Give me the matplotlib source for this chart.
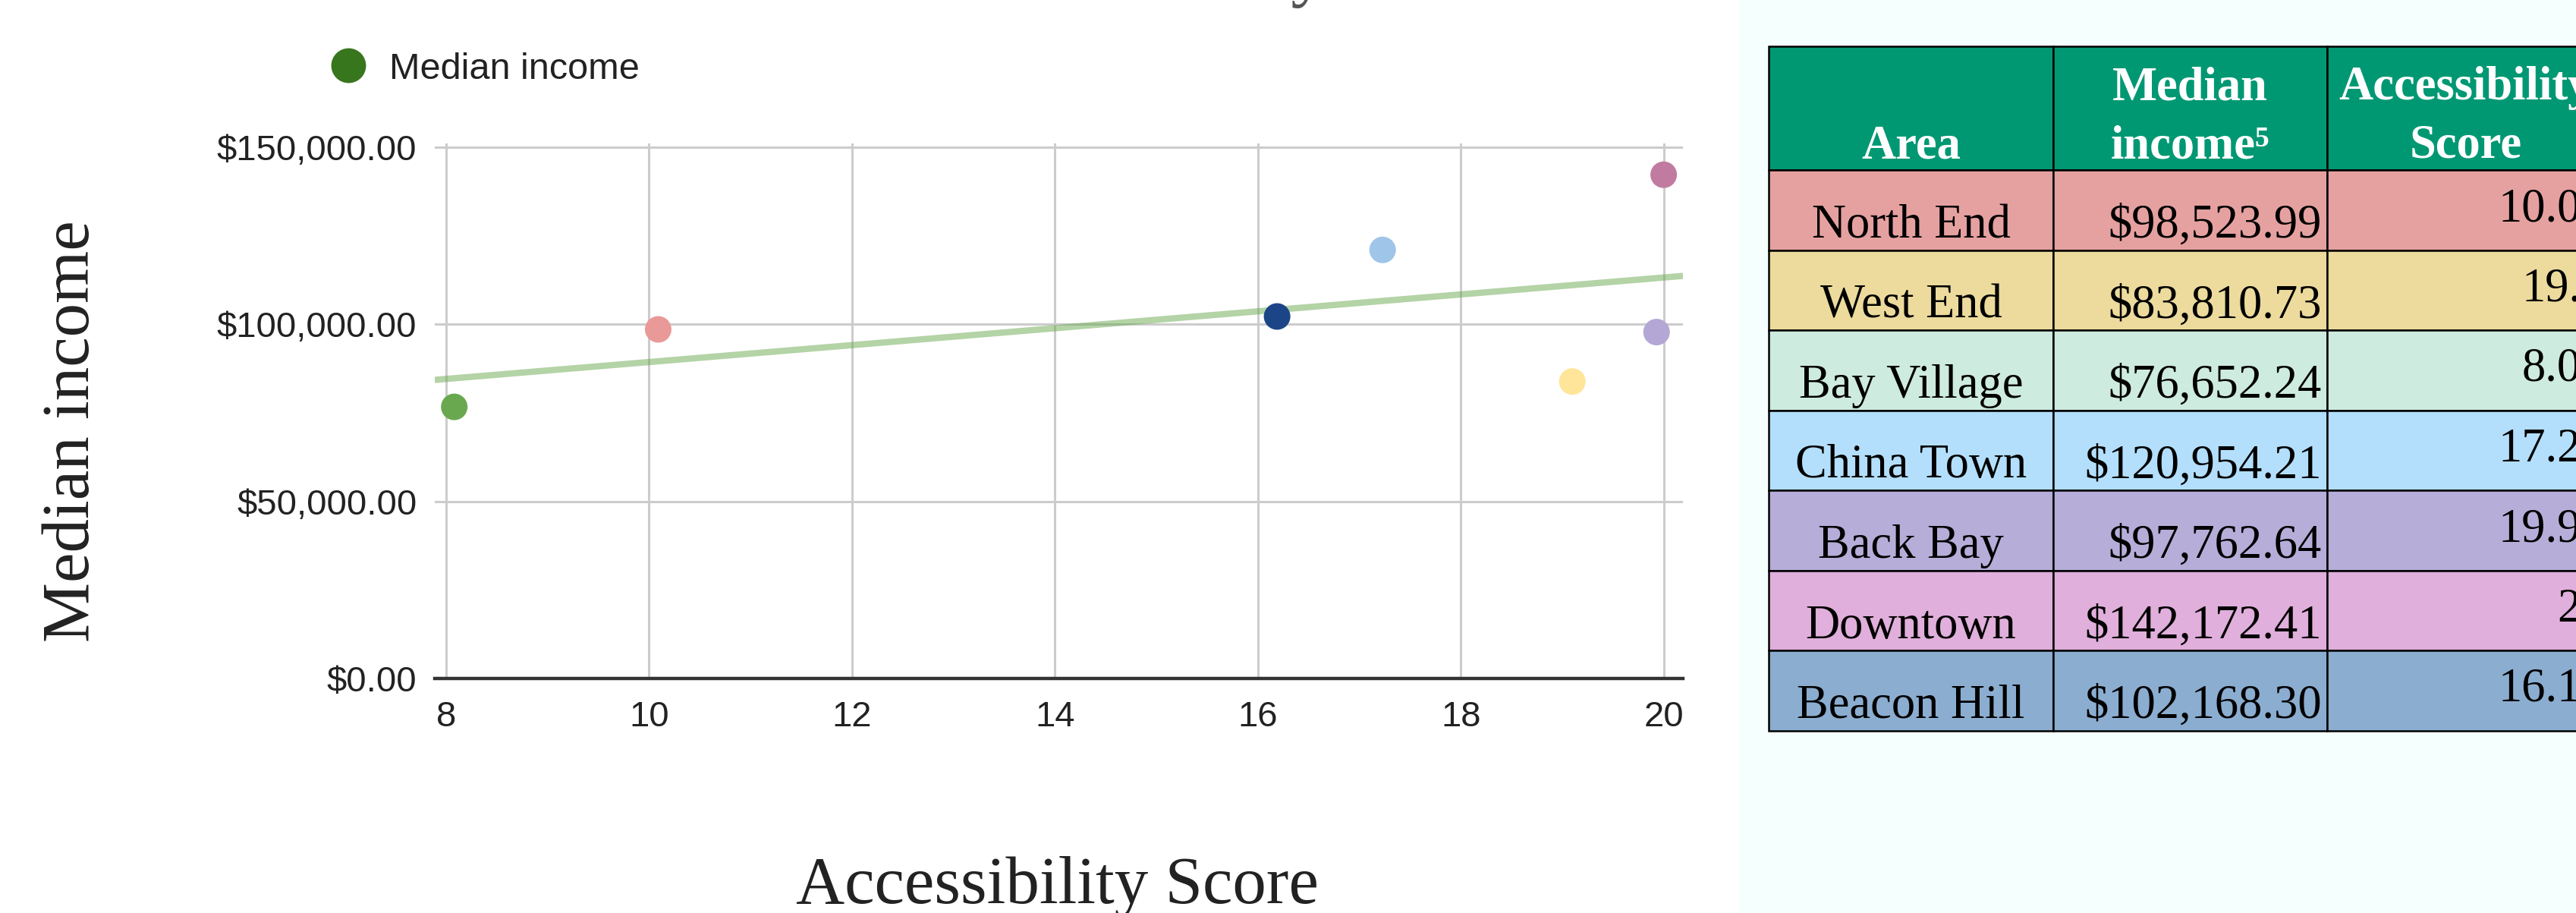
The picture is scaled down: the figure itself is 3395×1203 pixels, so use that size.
import numpy as np
import matplotlib
matplotlib.use("Agg")
import matplotlib.pyplot as plt
from matplotlib.lines import Line2D
from matplotlib.patches import Rectangle
from matplotlib.ticker import FuncFormatter

# ── data ──────────────────────────────────────────────────────────────────────
areas = ["North End", "West End", "Bay Village", "China Town",
         "Back Bay", "Downtown", "Beacon Hill"]
median_income = [98523.99, 83810.73, 76652.24, 120954.21,
                 97762.64, 142172.41, 102168.30]
access_score = [10.09, 19.1, 8.08, 17.23, 19.93, 20, 16.19]
point_colors = ["#ea9999", "#ffe599", "#6aa84f", "#9fc5e8",
                "#b4a7d6", "#c27ba0", "#1c4587"]
row_colors = ["#e5a1a0", "#ecdb9c", "#ceebdf", "#b3dffc",
              "#b6aed9", "#e0afdb", "#8badd0"]
x_ticks = [8, 10, 12, 14, 16, 18, 20]
y_ticks = [0, 50000, 100000, 150000]

W, H, DPI = 3395, 1203, 100
SERIF = "Liberation Serif"
SANS = "Liberation Sans"
INK = "#222222"

fig = plt.figure(figsize=(W / DPI, H / DPI), dpi=DPI, facecolor="white")

# ── scatter chart ─────────────────────────────────────────────────────────────
x0, x1, ytop, ybot = 573, 2218, 189, 894
ax = fig.add_axes([x0 / W, 1 - ybot / H, (x1 - x0) / W, (ybot - ytop) / H])
ax.set_xlim(7.888, 20.19)
ax.set_ylim(0, 151000)

ax.scatter(access_score, median_income, s=635, c=point_colors,
           edgecolors="none", zorder=3, clip_on=False)

# linear trendline across the whole x range
coef = np.polyfit(access_score, median_income, 1)
xs = np.array(ax.get_xlim())
ax.plot(xs, np.polyval(coef, xs), color="#6aa84f", alpha=0.5, lw=6,
        solid_capstyle="butt", zorder=2)

ax.set_xticks(x_ticks)
ax.set_yticks(y_ticks)
ax.yaxis.set_major_formatter(FuncFormatter(lambda v, _: f"${v:,.2f}"))
ax.grid(True, color="#cccccc", lw=2.2)
ax.set_axisbelow(True)
for s in ("top", "left", "right"):
    ax.spines[s].set_visible(False)
ax.spines["bottom"].set_color("#333333")
ax.spines["bottom"].set_linewidth(3.2)
ax.tick_params(axis="both", length=0, labelsize=34, colors=INK)
ax.tick_params(axis="x", pad=21)
ax.tick_params(axis="y", pad=17)
for lbl in ax.get_xticklabels() + ax.get_yticklabels():
    lbl.set_family(SANS)

handle = Line2D([], [], marker="o", ls="none", color="#38761d", markersize=32)
leg = fig.legend(handles=[handle], labels=["Median income"], loc="center left",
                 bbox_to_anchor=(435 / W, 1 - 91 / H), frameon=False,
                 borderpad=0, borderaxespad=0, handlelength=1.0,
                 handletextpad=0.6, prop={"family": SANS, "size": 35})
for t in leg.get_texts():
    t.set_color(INK)

fig.text(117 / W, 1 - 568 / H, "Median income", rotation=90,
         rotation_mode="anchor", ha="center", va="baseline",
         fontsize=64, family=SERIF, color=INK)
fig.text(1393 / W, 1 - 1190 / H, "Accessibility Score", ha="center",
         va="baseline", fontsize=64, family=SERIF, color=INK)
fig.text(1265 / W, 1 + 8 / H, "Median income vs. Accessibility Score",
         ha="center", va="baseline", fontsize=66, family=SERIF, color="#555555")

# ── data table on the right ──────────────────────────────────────────────────
lay = fig.add_axes([0, 0, 1, 1])
lay.set_xlim(0, W)
lay.set_ylim(H, 0)
lay.axis("off")
lay.add_patch(Rectangle((2291, 0), W - 2291, H, facecolor="#f5fffd",
                        edgecolor="none", zorder=0))

cols = [2331, 2706, 3067, 3440]
top, head_h, row_h = 61, 163, 105.5
edge = dict(edgecolor="black", linewidth=1.8, zorder=1)
head = dict(fontsize=45, fontweight="bold", color="white",
            family=[SERIF, "DejaVu Serif"], va="baseline", ha="center", zorder=2)
cell = dict(fontsize=45, color="black", family=SERIF, va="baseline", zorder=2)

for c in range(3):
    lay.add_patch(Rectangle((cols[c], top), cols[c + 1] - cols[c], head_h,
                            facecolor="#009873", **edge))
mid = [(cols[c] + cols[c + 1]) / 2 for c in range(3)]
lay.text(mid[0], top + 147.5, "Area", **head)
lay.text(mid[1], top + 71, "Median", **head)
lay.text(mid[1], top + 147.5, "income\u2075", **head)
lay.text(mid[2] - 4, top + 70, "Accessibility", **head)
lay.text(mid[2] - 4, top + 146, "Score", **head)

for i, (name, inc, acc) in enumerate(zip(areas, median_income, access_score)):
    y = top + head_h + i * row_h
    for c in range(3):
        lay.add_patch(Rectangle((cols[c], y), cols[c + 1] - cols[c], row_h,
                                facecolor=row_colors[i], **edge))
    lay.text(mid[0], y + 89, name, ha="center", **cell)
    lay.text(cols[2] - 7, y + 89, f"${inc:,.2f}", ha="right", **cell)
    lay.text(cols[3] - 7, y + 67, f"{acc:g}", ha="right", **cell)

fig.savefig("out.png", dpi=DPI, facecolor="white")
